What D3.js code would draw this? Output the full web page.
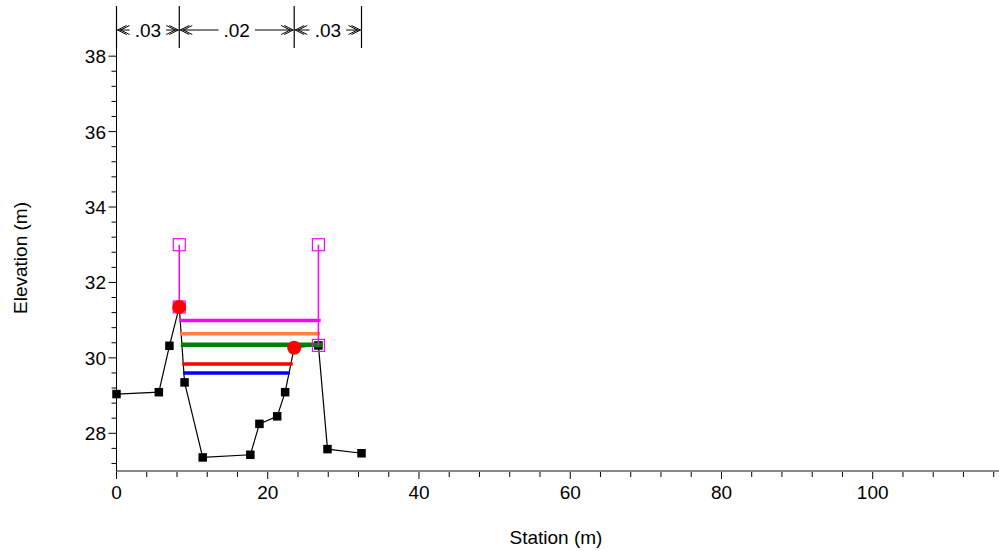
<!DOCTYPE html>
<html>
<head>
<meta charset="utf-8">
<script src="https://cdn.jsdelivr.net/npm/d3@7/dist/d3.min.js"></script>
<style>
  html, body { margin: 0; padding: 0; background: #fff; }
  svg { display: block; font-family: "Liberation Sans", Arial, sans-serif; }
</style>
</head>
<body>
<svg id="chart" width="999" height="551"></svg>
<script>
// ---- data ----
const groundStation = [0, 5.6, 7.0, 8.3, 9.0, 11.4, 17.7, 18.9, 21.25, 22.3, 23.5, 26.7, 27.9, 32.4];
const groundElev    = [29.04, 29.09, 30.32, 31.35, 29.35, 27.36, 27.43, 28.25, 28.45, 29.09, 30.27, 30.33, 27.58, 27.47];

const bankStation = [8.3, 23.5];
const bankElev    = [31.35, 30.27];

const leveeStation = [8.3, 26.7];
const leveeTop     = [33.0, 33.0];
const leveeBase    = [31.35, 30.33];

const wsElev  = [30.99, 30.64, 30.35, 29.84, 29.60];
const wsStart = [8.3, 8.4, 8.5, 8.7, 8.8];
const wsEnd   = [27.0, 26.9, 27.3, 23.3, 22.9];

const nBreaks = [0, 8.3, 23.5, 32.4];
const nValues = [".03", ".02", ".03"];

const xTicks = [0, 20, 40, 60, 80, 100];
const yTicks = [28, 30, 32, 34, 36, 38];

// ---- styles ----
const wsColors = ["#ff00ff", "#ff8040", "#008000", "#ff0000", "#0000ff"];
const wsWidths = [3.5, 3.5, 4.5, 3.5, 3.5];

(function () {
const svg = d3.select("#chart");
const pL = 116.5, pR = 999, pT = 6, pB = 471;
const x = d3.scaleLinear().domain([0, 116.7]).range([pL, pR]);
const y = d3.scaleLinear().domain([27.0, 39.33]).range([pB, pT]);
const FS = 19;

// ---- x axis ----
const xMinor = d3.range(0, 117, 4);
svg.append("g").selectAll("line").data(xMinor).join("line")
  .attr("x1", d => x(d)).attr("x2", d => x(d))
  .attr("y1", pB).attr("y2", d => pB + (d % 20 === 0 ? 8 : 6))
  .attr("stroke", "#000").attr("stroke-width", 1);
svg.append("line").attr("x1", pL).attr("x2", pR).attr("y1", pB).attr("y2", pB)
  .attr("stroke", "#888").attr("stroke-width", 2);
svg.append("g").selectAll("text").data(xTicks).join("text")
  .attr("x", d => x(d)).attr("y", 499).attr("text-anchor", "middle")
  .attr("font-size", FS).text(d => d);
svg.append("text").attr("x", 556).attr("y", 544).attr("text-anchor", "middle")
  .attr("font-size", FS).text("Station (m)");

// ---- y axis ----
const yMinor = d3.range(27.2, 38.01, 0.4);
svg.append("g").selectAll("line").data(yMinor).join("line")
  .attr("x1", d => pL - (Math.abs(Math.round(d) - d) < 0.01 && Math.round(d) % 2 === 0 ? 8 : 5))
  .attr("x2", pL)
  .attr("y1", d => y(d)).attr("y2", d => y(d))
  .attr("stroke", "#000").attr("stroke-width", 1);
svg.append("line").attr("x1", pL).attr("x2", pL).attr("y1", pT).attr("y2", pB)
  .attr("stroke", "#000").attr("stroke-width", 1);
svg.append("g").selectAll("text").data(yTicks).join("text")
  .attr("x", 106).attr("y", d => y(d) + 7).attr("text-anchor", "end")
  .attr("font-size", FS).text(d => d);
svg.append("text").attr("transform", "translate(27,258) rotate(-90)")
  .attr("text-anchor", "middle").attr("font-size", FS).text("Elevation (m)");

// ---- Manning's n annotation ----
const ann = svg.append("g");
const annY = 30;
ann.selectAll("line.bnd").data(nBreaks).join("line").attr("class", "bnd")
  .attr("x1", d => x(d)).attr("x2", d => x(d)).attr("y1", pT).attr("y2", 48)
  .attr("stroke", "#000").attr("stroke-width", 1.2);
nValues.forEach((v, i) => {
  const a = x(nBreaks[i]) + 1, b = x(nBreaks[i + 1]) - 1, m = (a + b) / 2;
  const t = ann.append("text").attr("x", m).attr("y", annY + 7).attr("text-anchor", "middle")
    .attr("font-size", FS).text(v);
  const w = t.node().getComputedTextLength();
  const tl = m - w / 2 - 5, tr = m + w / 2 + 5;
  ann.append("path").attr("d", `M${a},${annY}H${tl}M${tr},${annY}H${b}`)
    .attr("stroke", "#000").attr("stroke-width", 1).attr("fill", "none");
  [0, 3].forEach(o => {
    ann.append("path").attr("d", `M${a + o + 9},${annY - 4.5}L${a + o},${annY}L${a + o + 9},${annY + 4.5}`)
      .attr("stroke", "#000").attr("stroke-width", 1).attr("fill", "none");
    ann.append("path").attr("d", `M${b - o - 9},${annY - 4.5}L${b - o},${annY}L${b - o - 9},${annY + 4.5}`)
      .attr("stroke", "#000").attr("stroke-width", 1).attr("fill", "none");
  });
});

// ---- ground ----
const ground = groundStation.map((s, i) => [s, groundElev[i]]);
svg.append("path").datum(ground)
  .attr("d", d3.line().x(d => x(d[0])).y(d => y(d[1])))
  .attr("fill", "none").attr("stroke", "#000").attr("stroke-width", 1.2);
svg.append("g").selectAll("rect").data(ground).join("rect")
  .attr("x", d => x(d[0]) - 4.25).attr("y", d => y(d[1]) - 4.25)
  .attr("width", 8.5).attr("height", 8.5).attr("fill", "#000");

// ---- water surfaces ----
svg.append("g").selectAll("line").data(wsElev).join("line")
  .attr("x1", (d, i) => x(wsStart[i])).attr("x2", (d, i) => x(wsEnd[i]))
  .attr("y1", d => y(d)).attr("y2", d => y(d))
  .attr("stroke", (d, i) => wsColors[i]).attr("stroke-width", (d, i) => wsWidths[i]);

// ---- levees ----
const lev = svg.append("g");
leveeStation.forEach((s, i) => {
  lev.append("line").attr("x1", x(s)).attr("x2", x(s)).attr("y1", y(leveeTop[i])).attr("y2", y(leveeBase[i]))
    .attr("stroke", "#ff00ff").attr("stroke-width", 1.5);
  [leveeTop[i], leveeBase[i]].forEach(e => {
    lev.append("rect").attr("x", x(s) - 6).attr("y", y(e) - 6).attr("width", 12).attr("height", 12)
      .attr("fill", "none").attr("stroke", "#ff00ff").attr("stroke-width", 1.2);
  });
});

// ---- bank stations ----
svg.append("g").selectAll("circle").data(bankStation).join("circle")
  .attr("cx", d => x(d)).attr("cy", (d, i) => y(bankElev[i])).attr("r", 7)
  .attr("fill", "#ff0000");
})();
</script>
</body>
</html>
